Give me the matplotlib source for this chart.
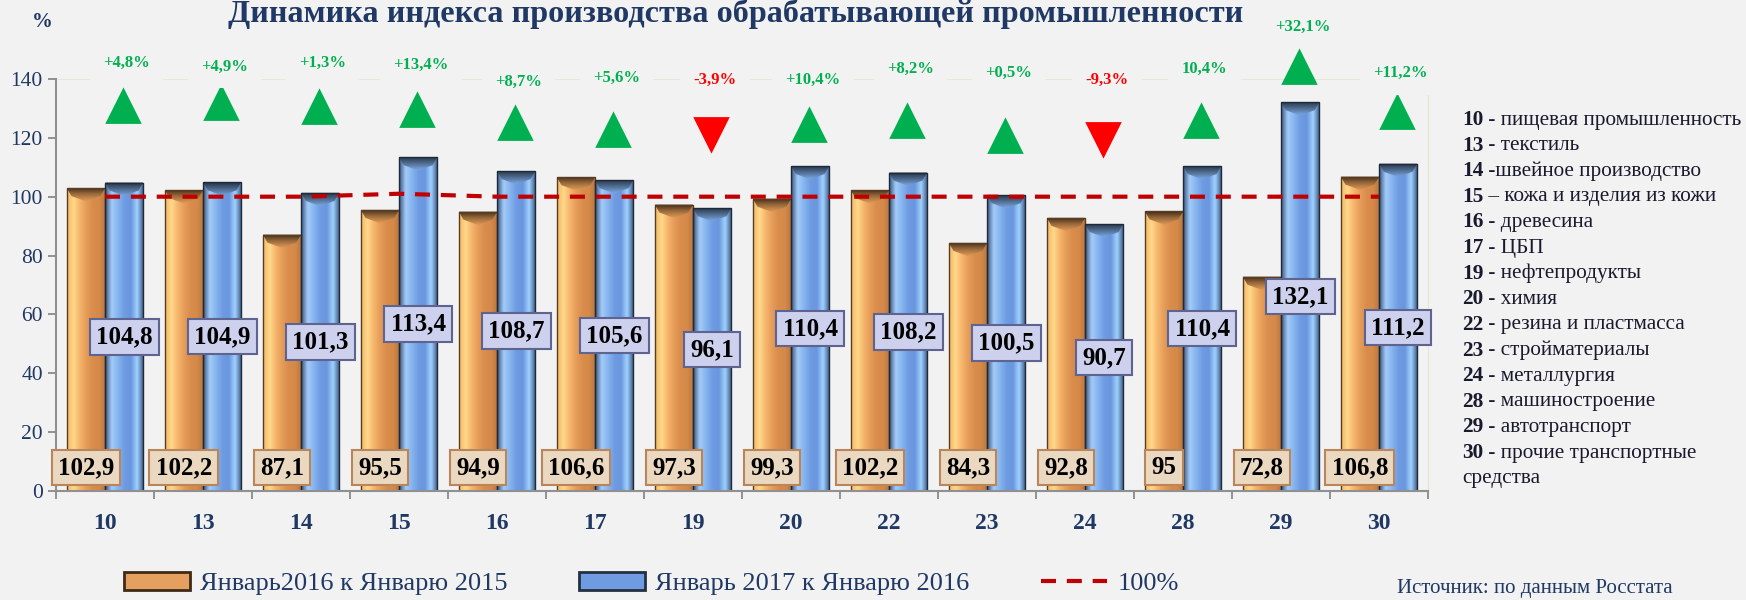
import numpy as np
import matplotlib.pyplot as plt
from matplotlib.colors import LinearSegmentedColormap
from matplotlib.patches import Rectangle, Polygon, Patch
from matplotlib.lines import Line2D

plt.rcParams['font.family'] = ['Liberation Serif', 'DejaVu Serif']

# --- data ---
codes = ["10", "13", "14", "15", "16", "17", "19", "20", "22", "23", "24", "28", "29", "30"]
jan16 = [102.9, 102.2, 87.1, 95.5, 94.9, 106.6, 97.3, 99.3, 102.2, 84.3, 92.8, 95, 72.8, 106.8]
jan17 = [104.8, 104.9, 101.3, 113.4, 108.7, 105.6, 96.1, 110.4, 108.2, 100.5, 90.7, 110.4, 132.1, 111.2]
base_line = [100, 100, 100, 101, 100, 100, 100, 100, 100, 100, 100, 100, 100, 100]
change_txt = ["+4,8%", "+4,9%", "+1,3%", "+13,4%", "+8,7%", "+5,6%", "-3,9%", "+10,4%",
              "+8,2%", "+0,5%", "-9,3%", "10,4%", "+32,1%", "+11,2%"]
# where the arrows and their labels sit (in % units, as placed on the slide)
arrow_y = [130.9, 131.7, 130.5, 129.4, 125.2, 122.6, 121.4, 124.3, 125.8, 120.5, 119.7, 125.8, 144.2, 128.9]
label_y = [145.3, 144.2, 145.3, 144.9, 138.9, 140.4, 139.6, 139.6, 143.4, 141.9, 139.6, 143.4, 157.8, 141.9]
names = ["- пищевая промышленность", "- текстиль", "-швейное производство",
         "– кожа и изделия из кожи", "- древесина", "- ЦБП", "- нефтепродукты",
         "- химия", "- резина и пластмасса", "- стройматериалы", "- металлургия",
         "- машиностроение", "- автотранспорт", "- прочие транспортные\nсредства"]

navy = '#1F3864'
bg = '#F2F2F2'

fig = plt.figure(figsize=(17.46, 6.0), dpi=100, facecolor=bg)
ax = fig.add_axes([0.0321, 0.1817, 0.7858, 0.6867])
ax.set_facecolor(bg)

orange_cmap = LinearSegmentedColormap.from_list(
    'o', ['#F2B868', '#FFD98A', '#F5B36A', '#E49C58', '#D98C4C', '#D58A4A', '#B8753E'])
blue_cmap = LinearSegmentedColormap.from_list(
    'b', ['#3A5580', '#A3CCF8', '#86B4EE', '#6E9BE2', '#6A96DE', '#9FD2FF', '#3A5580'])
orange_top = LinearSegmentedColormap.from_list('ot', ['#3E2A18', '#9A6A3C', '#E09A55'])
blue_top = LinearSegmentedColormap.from_list('bt', ['#23303F', '#4E6A8E', '#7CA6E0'])


def gradient_bar(x, h, w, cmap, top_cmap, edge):
    x0, x1 = x - w / 2, x + w / 2
    rect = Rectangle((x0, 0), w, h, facecolor='none', edgecolor=edge, lw=1.0, zorder=2.2)
    ax.add_patch(rect)
    im = ax.imshow(np.linspace(0, 1, 64).reshape(1, -1), cmap=cmap, aspect='auto',
                   extent=[x0, x1, 0, h], zorder=2, interpolation='bicubic')
    im.set_clip_path(rect)
    # bevelled top
    d = 4.5
    tri = Polygon([(x0, h), (x1, h), (x1 - w * 0.12, h - d * 0.6), (x, h - d),
                   (x0 + w * 0.12, h - d * 0.6)], closed=True,
                  facecolor='none', edgecolor='none', zorder=2.1)
    ax.add_patch(tri)
    im2 = ax.imshow(np.linspace(0, 1, 64).reshape(-1, 1), cmap=top_cmap, aspect='auto',
                    extent=[x0, x1, h - d, h], zorder=2.1, interpolation='bicubic')
    im2.set_clip_path(tri)


x = np.arange(len(codes))
w = 0.39
for i in range(len(codes)):
    gradient_bar(x[i] - w / 2, jan16[i], w, orange_cmap, orange_top, '#5A3C20')
    gradient_bar(x[i] + w / 2, jan17[i], w, blue_cmap, blue_top, '#1E2A3A')

# value boxes
for i in range(len(codes)):
    ax.text(x[i] - w / 2, 8, f"{jan16[i]:g}".replace('.', ','), ha='center', va='center',
            fontsize=18, fontweight='bold', color='black', zorder=6,
            bbox=dict(boxstyle='square,pad=0.25', facecolor='#EAD8C0', edgecolor='#B8865A', lw=1.5))
    ax.text(x[i] + w / 2, jan17[i] / 2, f"{jan17[i]:g}".replace('.', ','), ha='center',
            va='center', fontsize=18, fontweight='bold', color='black', zorder=6,
            bbox=dict(boxstyle='square,pad=0.25', facecolor='#CDD1EE', edgecolor='#5E6390', lw=1.5))

# 100% line
ax.plot(x, base_line, color='#C00000', lw=3, dashes=(3.6, 2.6), zorder=4)

# faint 140 gridline
ax.axhline(140, color='#E6E6CF', lw=1.2, zorder=0.5)

# arrows with change labels
for i in range(len(codes)):
    up = not change_txt[i].startswith('-')
    col = '#00B050' if up else '#FF0000'
    ax.plot(x[i] + 0.18, arrow_y[i], marker='^' if up else 'v', markersize=23,
            color=col, markeredgecolor=col, markeredgewidth=2, clip_on=False, zorder=5)
    ax.text(x[i] + 0.22, label_y[i], change_txt[i], ha='center', va='center', fontsize=12,
            fontweight='bold', color=col, clip_on=False, zorder=5,
            bbox=dict(boxstyle='square,pad=0.8', facecolor=bg, edgecolor='none'))

ax.set_xlim(-0.5, len(codes) - 0.5)
ax.set_ylim(0, 140)
ax.set_yticks(np.arange(0, 141, 20))
ax.set_xticks(x)
ax.set_xticklabels(codes, fontsize=17, fontweight='bold', color=navy)
ax.set_xticks(np.arange(-0.5, len(codes), 1), minor=True)
ax.tick_params(axis='x', which='major', length=0, pad=16)
ax.tick_params(axis='x', which='minor', length=6, width=1.2, color='#808080', direction='out')
ax.tick_params(axis='y', labelsize=15.5, labelcolor=navy, length=6, width=1.2, color='#808080')
ax.spines['top'].set_visible(False)
ax.spines['right'].set_color('#E6E6CF')
ax.spines['left'].set_color('#909090')
ax.spines['bottom'].set_color('#909090')
ax.spines['left'].set_linewidth(1.5)
ax.spines['bottom'].set_linewidth(1.5)

fig.text(0.4215, 0.976, "Динамика индекса производства обрабатывающей промышленности",
         ha='center', va='center', fontsize=23.2, fontweight='bold', color=navy)
fig.text(0.024, 0.963, "%", ha='center', va='center', fontsize=15, fontweight='bold', color=navy)

# category explanations on the right
y0 = 0.80
step = 0.0427
row = 0
for c, n in zip(codes, names):
    parts = n.split('\n')
    num = fig.text(0.8373, y0 - row * step, c, ha='left', va='center', fontsize=15.3,
                   fontweight='bold', color='#1A1A2E')
    ax.annotate(" " + parts[0], xy=(1, 0.5), xycoords=num, ha='left', va='center',
                fontsize=15.3, color='#1A1A2E')
    row += 1
    for extra in parts[1:]:
        fig.text(0.8373, y0 - row * step, extra, ha='left', va='center', fontsize=15.3,
                 color='#1A1A2E')
        row += 1

fig.text(0.800, 0.003, "Источник: по данным Росстата", ha='left', va='bottom',
         fontsize=15, color=navy)

handles = [Patch(facecolor='#E5A060', edgecolor='#3E2A18', lw=2),
           Patch(facecolor='#6E9BE2', edgecolor='#23303F', lw=2),
           Line2D([0], [0], color='#C00000', lw=3, dashes=(3.6, 2.6))]
leg = fig.legend(handles, ["Январь2016 к Январю 2015", "Январь 2017 к Январю 2016", "100%"],
                 loc='center', bbox_to_anchor=(0.373, 0.027), ncol=3, frameon=False,
                 fontsize=19, handlelength=2.5, handleheight=0.65, handletextpad=0.4,
                 columnspacing=2.7)
for t in leg.get_texts():
    t.set_color(navy)

fig.savefig("out.png", dpi=100, facecolor=bg)
